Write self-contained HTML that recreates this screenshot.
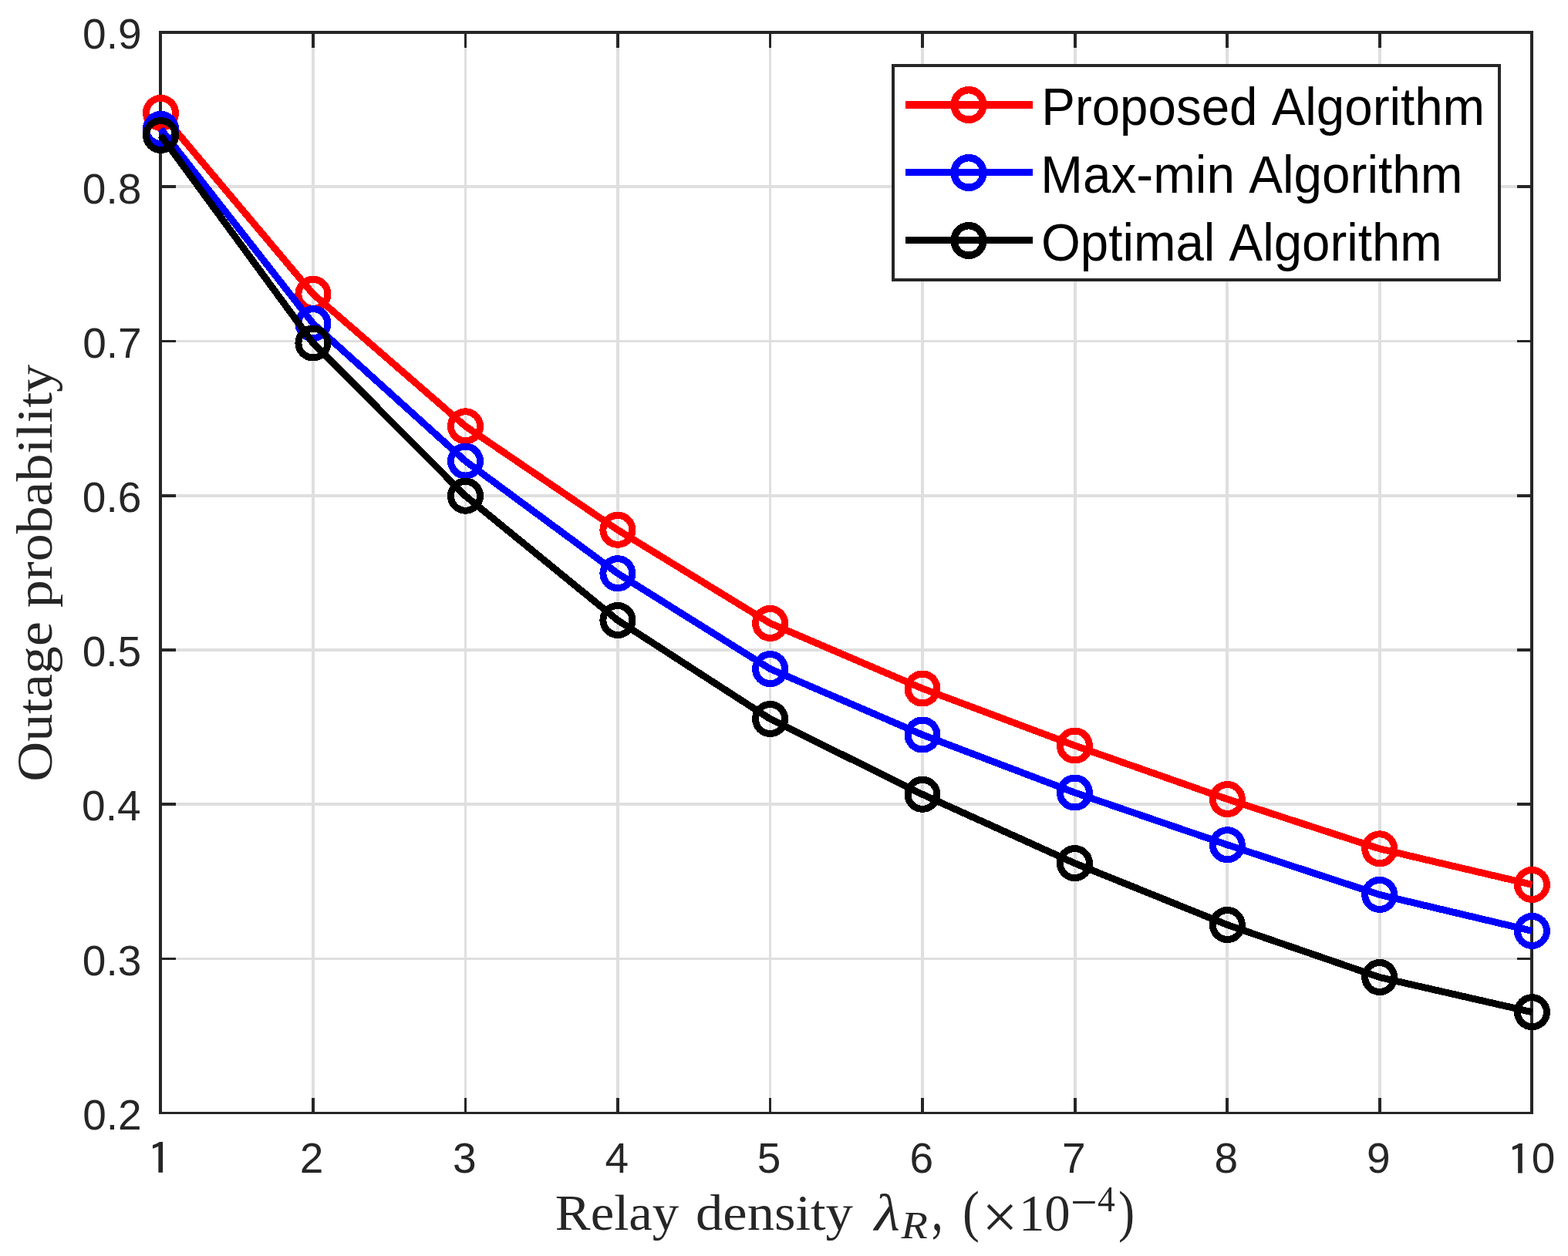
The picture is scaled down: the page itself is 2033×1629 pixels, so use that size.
<!DOCTYPE html>
<html><head><meta charset="utf-8"><title>Outage probability vs relay density</title>
<style>html,body{margin:0;padding:0;background:#fff;}body{width:2033px;height:1629px;overflow:hidden;}svg{display:block;}text{font-kerning:none;font-variant-ligatures:none;}</style>
</head><body>
<svg width="2033" height="1629" viewBox="0 0 2033 1629">
<rect x="0" y="0" width="2033" height="1629" fill="#fff"/>
<path d="M603.5 42.0V1443.5M998.5 42.0V1443.5M208.0 442.5H1986.0M208.0 1243.5H1986.0" stroke="#dfdfdf" stroke-width="3" fill="none"/>
<path d="M406 42.0V1443.5M801 42.0V1443.5M1196 42.0V1443.5M1394 42.0V1443.5M1591 42.0V1443.5M1789 42.0V1443.5M208.0 242H1986.0M208.0 643H1986.0M208.0 843H1986.0M208.0 1043H1986.0" stroke="#dfdfdf" stroke-width="4" fill="none"/>
<path d="M603.5 1445V1424M603.5 40V62M998.5 1445V1424M998.5 40V62M206 442.5H228M1988 442.5H1967M206 1243.5H228M1988 1243.5H1967" stroke="#262626" stroke-width="3" fill="none"/>
<path d="M406 1445V1424M406 40V62M801 1445V1424M801 40V62M1196 1445V1424M1196 40V62M1394 1445V1424M1394 40V62M1591 1445V1424M1591 40V62M1789 1445V1424M1789 40V62M206 242H228M1988 242H1967M206 643H228M1988 643H1967M206 843H228M1988 843H1967M206 1043H228M1988 1043H1967" stroke="#262626" stroke-width="4" fill="none"/>
<path d="M206 42H1988M208 40V1445M1986 40V1445" stroke="#262626" stroke-width="4" fill="none"/>
<path d="M206 1443.5H1988" stroke="#262626" stroke-width="3" fill="none"/>
<g fill="#262626">
<text x="388.81" y="1521.40" font-family="'Liberation Sans', Arial, Helvetica, sans-serif" font-size="55">2</text>
<text x="586.88" y="1521.40" font-family="'Liberation Sans', Arial, Helvetica, sans-serif" font-size="55">3</text>
<text x="784.45" y="1521.40" font-family="'Liberation Sans', Arial, Helvetica, sans-serif" font-size="55">4</text>
<text x="981.66" y="1521.40" font-family="'Liberation Sans', Arial, Helvetica, sans-serif" font-size="55">5</text>
<text x="1179.42" y="1521.40" font-family="'Liberation Sans', Arial, Helvetica, sans-serif" font-size="55">6</text>
<text x="1376.91" y="1521.40" font-family="'Liberation Sans', Arial, Helvetica, sans-serif" font-size="55">7</text>
<text x="1574.49" y="1521.40" font-family="'Liberation Sans', Arial, Helvetica, sans-serif" font-size="55">8</text>
<text x="1772.06" y="1521.40" font-family="'Liberation Sans', Arial, Helvetica, sans-serif" font-size="55">9</text>
<text transform="matrix(0.70049 0 0 0.55842 189.72 1523.74)" font-family="IPAGothic, 'Liberation Sans', sans-serif" font-size="100">1</text>
<text transform="matrix(0.68980 0 0 0.55413 1952.85 1523.61)" font-family="IPAGothic, 'Liberation Sans', sans-serif" font-size="100">1</text>
<text x="1985.85" y="1521.40" font-family="'Liberation Sans', Arial, Helvetica, sans-serif" font-size="55">0</text>
<text x="107.05" y="63.40" font-family="'Liberation Sans', Arial, Helvetica, sans-serif" font-size="55">0.9</text>
<text x="106.83" y="263.61" font-family="'Liberation Sans', Arial, Helvetica, sans-serif" font-size="55">0.8</text>
<text x="107.21" y="463.83" font-family="'Liberation Sans', Arial, Helvetica, sans-serif" font-size="55">0.7</text>
<text x="106.86" y="664.04" font-family="'Liberation Sans', Arial, Helvetica, sans-serif" font-size="55">0.6</text>
<text x="106.75" y="864.26" font-family="'Liberation Sans', Arial, Helvetica, sans-serif" font-size="55">0.5</text>
<text x="106.05" y="1064.47" font-family="'Liberation Sans', Arial, Helvetica, sans-serif" font-size="55">0.4</text>
<text x="106.86" y="1264.69" font-family="'Liberation Sans', Arial, Helvetica, sans-serif" font-size="55">0.3</text>
<text x="107.21" y="1464.90" font-family="'Liberation Sans', Arial, Helvetica, sans-serif" font-size="55">0.2</text>
</g>
<g shape-rendering="crispEdges">
<polyline points="208.5,146.4 405.9,381.3 603.5,552.8 800.9,687.3 998.6,808.4 1196.0,893.0 1393.4,967.0 1591.3,1036.5 1788.7,1100.8 1986.4,1147.4" stroke="#ff0000" stroke-width="9" fill="none" stroke-linejoin="round"/><circle cx="208.5" cy="146.4" r="19" stroke="#ff0000" stroke-width="9" fill="none"/><circle cx="405.9" cy="381.3" r="19" stroke="#ff0000" stroke-width="9" fill="none"/><circle cx="603.5" cy="552.8" r="19" stroke="#ff0000" stroke-width="9" fill="none"/><circle cx="800.9" cy="687.3" r="19" stroke="#ff0000" stroke-width="9" fill="none"/><circle cx="998.6" cy="808.4" r="19" stroke="#ff0000" stroke-width="9" fill="none"/><circle cx="1196.0" cy="893.0" r="19" stroke="#ff0000" stroke-width="9" fill="none"/><circle cx="1393.4" cy="967.0" r="19" stroke="#ff0000" stroke-width="9" fill="none"/><circle cx="1591.3" cy="1036.5" r="19" stroke="#ff0000" stroke-width="9" fill="none"/><circle cx="1788.7" cy="1100.8" r="19" stroke="#ff0000" stroke-width="9" fill="none"/><circle cx="1986.4" cy="1147.4" r="19" stroke="#ff0000" stroke-width="9" fill="none"/>
<polyline points="208.5,167.3 405.9,419.6 603.5,598.0 800.9,743.7 998.6,867.6 1196.0,953.0 1393.4,1028.0 1591.3,1095.7 1788.7,1160.4 1986.4,1207.4" stroke="#0000ff" stroke-width="9" fill="none" stroke-linejoin="round"/><circle cx="208.5" cy="167.3" r="19" stroke="#0000ff" stroke-width="9" fill="none"/><circle cx="405.9" cy="419.6" r="19" stroke="#0000ff" stroke-width="9" fill="none"/><circle cx="603.5" cy="598.0" r="19" stroke="#0000ff" stroke-width="9" fill="none"/><circle cx="800.9" cy="743.7" r="19" stroke="#0000ff" stroke-width="9" fill="none"/><circle cx="998.6" cy="867.6" r="19" stroke="#0000ff" stroke-width="9" fill="none"/><circle cx="1196.0" cy="953.0" r="19" stroke="#0000ff" stroke-width="9" fill="none"/><circle cx="1393.4" cy="1028.0" r="19" stroke="#0000ff" stroke-width="9" fill="none"/><circle cx="1591.3" cy="1095.7" r="19" stroke="#0000ff" stroke-width="9" fill="none"/><circle cx="1788.7" cy="1160.4" r="19" stroke="#0000ff" stroke-width="9" fill="none"/><circle cx="1986.4" cy="1207.4" r="19" stroke="#0000ff" stroke-width="9" fill="none"/>
<polyline points="208.5,175.5 405.9,445.0 603.5,643.2 800.9,804.5 998.6,932.5 1196.0,1030.3 1393.4,1119.6 1591.3,1199.5 1788.7,1267.5 1986.4,1312.7" stroke="#000000" stroke-width="9" fill="none" stroke-linejoin="round"/><circle cx="208.5" cy="175.5" r="19" stroke="#000000" stroke-width="9" fill="none"/><circle cx="405.9" cy="445.0" r="19" stroke="#000000" stroke-width="9" fill="none"/><circle cx="603.5" cy="643.2" r="19" stroke="#000000" stroke-width="9" fill="none"/><circle cx="800.9" cy="804.5" r="19" stroke="#000000" stroke-width="9" fill="none"/><circle cx="998.6" cy="932.5" r="19" stroke="#000000" stroke-width="9" fill="none"/><circle cx="1196.0" cy="1030.3" r="19" stroke="#000000" stroke-width="9" fill="none"/><circle cx="1393.4" cy="1119.6" r="19" stroke="#000000" stroke-width="9" fill="none"/><circle cx="1591.3" cy="1199.5" r="19" stroke="#000000" stroke-width="9" fill="none"/><circle cx="1788.7" cy="1267.5" r="19" stroke="#000000" stroke-width="9" fill="none"/><circle cx="1986.4" cy="1312.7" r="19" stroke="#000000" stroke-width="9" fill="none"/>
</g>
<rect x="1158" y="85" width="786" height="278" fill="#fff" stroke="#262626" stroke-width="4"/>
<g shape-rendering="crispEdges">
<path d="M1174 136.0H1339" stroke="#ff0000" stroke-width="10" fill="none"/>
<ellipse cx="1256" cy="136.0" rx="18.8" ry="19.3" stroke="#ff0000" stroke-width="9.5" fill="none"/>
<path d="M1174 223.5H1339" stroke="#0000ff" stroke-width="9" fill="none"/>
<ellipse cx="1256" cy="224.0" rx="18.8" ry="19.3" stroke="#0000ff" stroke-width="9.5" fill="none"/>
<path d="M1174 311.5H1339" stroke="#000000" stroke-width="9" fill="none"/>
<ellipse cx="1256" cy="312.0" rx="18.8" ry="19.3" stroke="#000000" stroke-width="9.5" fill="none"/>
</g>
<g fill="#000">
<text transform="matrix(0.65483 0 0 0.67692 1350.23 162.00)" font-family="'Liberation Sans', Arial, Helvetica, sans-serif" font-size="100">Proposed Algorithm</text>
<text transform="matrix(0.65653 0 0 0.67692 1349.31 250.10)" font-family="'Liberation Sans', Arial, Helvetica, sans-serif" font-size="100">Max-min Algorithm</text>
<text transform="matrix(0.65424 0 0 0.67692 1350.00 337.70)" font-family="'Liberation Sans', Arial, Helvetica, sans-serif" font-size="100">Optimal Algorithm</text>
</g>
<g fill="#262626">
<g transform="translate(0 1010.8) rotate(-90)"><text transform="matrix(0.71903 0 0 0.65079 -2.95 67.25)" font-family="'Liberation Serif', 'Times New Roman', serif" font-size="100">Outage probability</text></g>
<text transform="matrix(0.68788 0 0 0.65958 719.82 1594.66)" font-family="'Liberation Serif', 'Times New Roman', serif" font-size="100">Relay</text>
<text transform="matrix(0.70595 0 0 0.65738 902.05 1594.71)" font-family="'Liberation Serif', 'Times New Roman', serif" font-size="100">density</text>
<text transform="matrix(0.76280 0 0 0.66894 1133.86 1596.10)" font-family="'Liberation Serif', 'Times New Roman', serif" font-size="100" font-style="italic">λ</text>
<text transform="matrix(0.56370 0 0 0.50245 1168.40 1605.80)" font-family="'Liberation Serif', 'Times New Roman', serif" font-size="100" font-style="italic">R</text>
<text transform="matrix(0.59761 0 0 0.81375 1207.82 1595.48)" font-family="'Liberation Serif', 'Times New Roman', serif" font-size="100">,</text>
<text transform="matrix(0.65801 0 0 0.74002 1248.11 1596.25)" font-family="'Liberation Serif', 'Times New Roman', serif" font-size="100">(</text>
<text transform="matrix(0.82117 0 0 0.82264 1273.30 1605.90)" font-family="'Liberation Serif', 'Times New Roman', serif" font-size="100">×</text>
<text transform="matrix(0.66817 0 0 0.68464 1320.93 1596.23)" font-family="'Liberation Serif', 'Times New Roman', serif" font-size="100">10</text>
<text transform="matrix(0.61676 0 0 0.62243 1388.03 1580.12)" font-family="'Liberation Serif', 'Times New Roman', serif" font-size="100">−</text>
<text transform="matrix(0.45607 0 0 0.47098 1423.01 1570.80)" font-family="'Liberation Serif', 'Times New Roman', serif" font-size="100">4</text>
<text transform="matrix(0.63465 0 0 0.74002 1449.95 1596.35)" font-family="'Liberation Serif', 'Times New Roman', serif" font-size="100">)</text>
</g>
</svg>
</body></html>
